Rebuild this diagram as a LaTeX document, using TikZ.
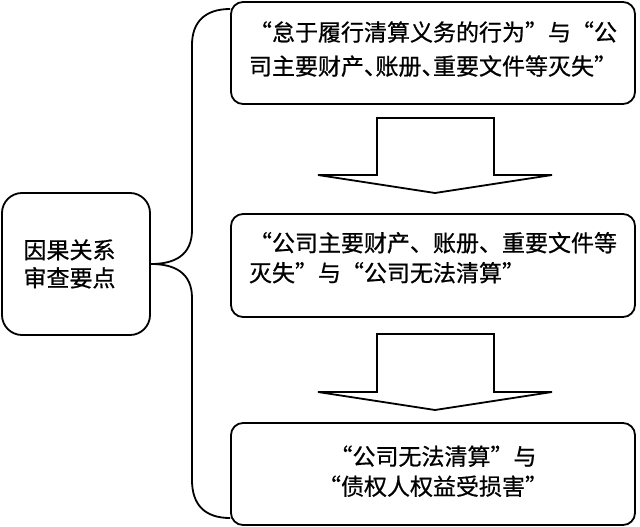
\documentclass[tikz,border=0pt]{standalone}
\usepackage{fontspec}
\newfontfamily\cjk[CharacterWidth=Full,FakeBold=0.7]{Noto Sans CJK SC}
\usetikzlibrary{calc}
\newcommand\upby[2]{\raisebox{#1}[\height][\depth]{#2}}
\newcommand\hw[1]{\makebox[0.5em][l]{#1}}
\begin{document}
\begin{tikzpicture}[x=1pt,y=-1pt,line width=1.8pt,
  box/.style={draw, rounded corners=12pt, minimum width=404pt, minimum height=102pt,
    inner sep=0pt, font=\cjk\fontsize{23}{30}\selectfont},
  lbox/.style={draw, rounded corners=20pt, minimum width=148pt, minimum height=142pt,
    inner sep=0pt, font=\cjk\fontsize{23}{28}\selectfont},
  blockarrow/.style={draw, fill=white, line join=miter},
  conn/.style={draw}]
\useasboundingbox (0,0) rectangle (640,527);
\node[box, font=\cjk\fontsize{23}{34}\selectfont] (top) at (433,53)
  {\upby{2pt}{\begin{tabular}{@{}c@{}}“怠于履行清算义务的行为”与“公\\司主要财产\hw{、}账册\hw{、}重要文件等灭失”\end{tabular}}};
\node[box, minimum height=103pt] (mid) at (433,265.5)
  {\upby{5pt}{\begin{tabular}{@{}l@{}}“公司主要财产、账册、重要文件等\\灭失”与“公司无法清算”\end{tabular}}};
\node[box] (bot) at (433,474)
  {\upby{0pt}{\begin{tabular}{@{}c@{}}“公司无法清算”与\\“债权人权益受损害”\end{tabular}}};
\node[lbox] (left) at (76,264)
  {\upby{-3pt}{\begin{tabular}{@{}l@{}}因果关系\\审查要点\end{tabular}}\kern13pt};
\draw[blockarrow] (377,118) -- (494,118) -- (494,175) -- (552,175) -- (435,193) -- (318,175) -- (377,175) -- cycle;
\draw[blockarrow] (377,334) -- (494,334) -- (494,392) -- (552,392) -- (435,410) -- (318,392) -- (377,392) -- cycle;
\draw[conn] (left.east) .. controls (175,264) and (192,255) .. (192,230) -- (192,45)
  .. controls (192,22) and (205,9) .. ($(top.west)+(0,-44)$);
\draw[conn] (left.east) .. controls (175,264) and (192,273) .. (192,298) -- (192,480)
  .. controls (192,505) and (205,518) .. ($(bot.west)+(0,44)$);
\end{tikzpicture}
\end{document}
